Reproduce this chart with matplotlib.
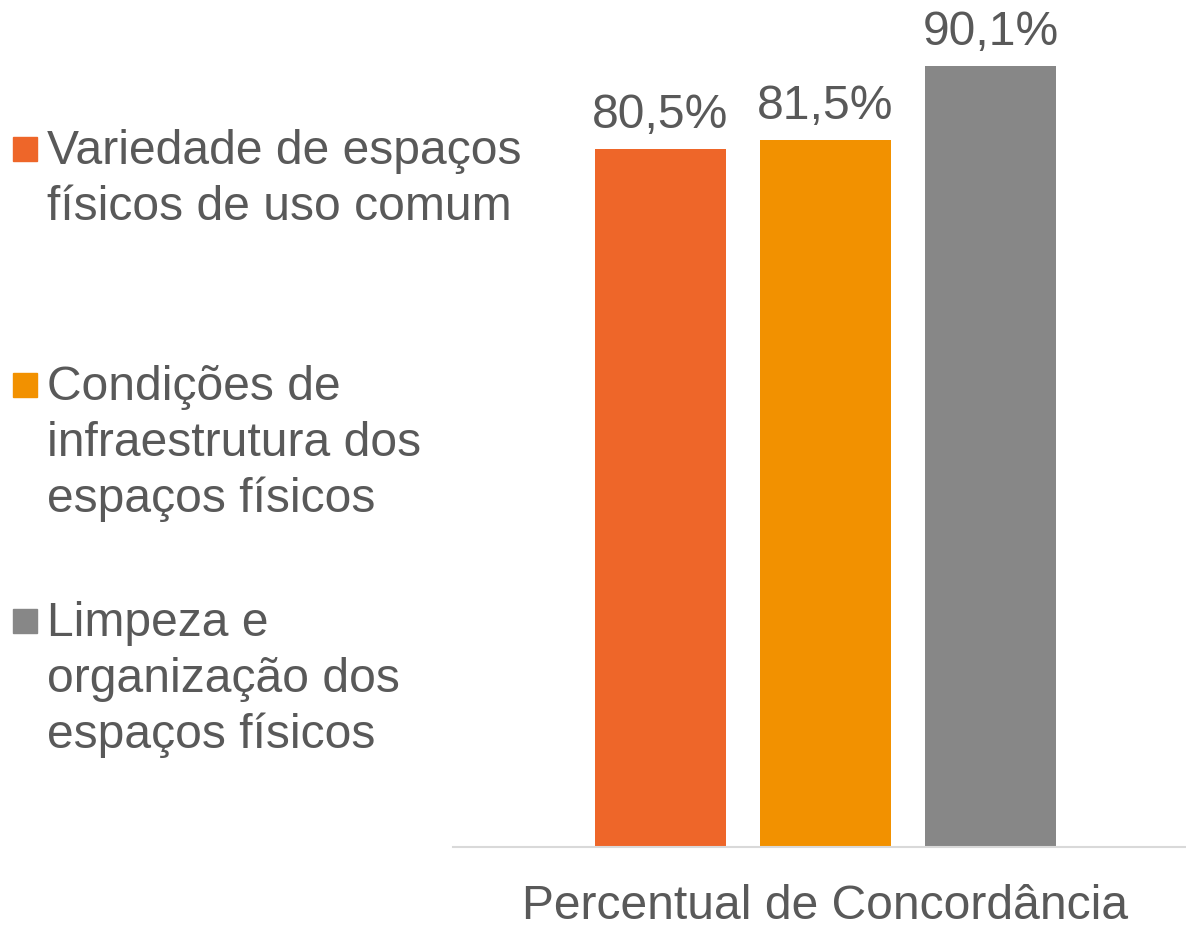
import matplotlib.pyplot as plt
from matplotlib.patches import Rectangle

# Dados do gráfico
categorias = ['Variedade de espaços\nfísicos de uso comum',
              'Condições de\ninfraestrutura dos\nespaços físicos',
              'Limpeza e\norganização dos\nespaços físicos']
valores = [80.5, 81.5, 90.1]
rotulos = ['80,5%', '81,5%', '90,1%']
cores = ['#EE6629', '#F29100', '#878787']
grupo = 'Percentual de Concordância'

plt.rcParams['font.family'] = ['Liberation Sans', 'DejaVu Sans']
texto_cor = '#595959'
fs = 34.6

fig = plt.figure(figsize=(11.86, 9.25), dpi=100)
ax = fig.add_axes([453 / 1186, 78 / 925, 733 / 1186, 847 / 925])

posicoes = [0, 1, 2]
barras = ax.bar(posicoes, valores, width=0.794, color=cores)
for b, r in zip(barras, rotulos):
    ax.annotate(r, (b.get_x() + b.get_width() / 2, b.get_height()),
                xytext=(0, 8), textcoords='offset points',
                ha='center', va='bottom', fontsize=fs, color=texto_cor)

ax.set_xlim(-1.258, 3.185)
ax.set_ylim(0, 97.7)
ax.set_yticks([])
ax.set_xticks([])
for s in ['top', 'right', 'left']:
    ax.spines[s].set_visible(False)
ax.spines['bottom'].set_color('#D9D9D9')
ax.spines['bottom'].set_linewidth(1.5)

ax.text(1, -8.3, grupo, ha='center', va='baseline', fontsize=fs, color=texto_cor)

# Legenda manual
topos = [129, 365, 601]
for cat, cor, y in zip(categorias, cores, topos):
    fig.patches.append(Rectangle((13 / 1186, 1 - (y + 32) / 925),
                                 24 / 1186, 24 / 925, color=cor,
                                 transform=fig.transFigure, figure=fig))
    fig.text(47 / 1186, 1 - y / 925, cat, ha='left', va='top', fontsize=fs,
             color=texto_cor, linespacing=1.31)

fig.savefig('out.png', dpi=100)
